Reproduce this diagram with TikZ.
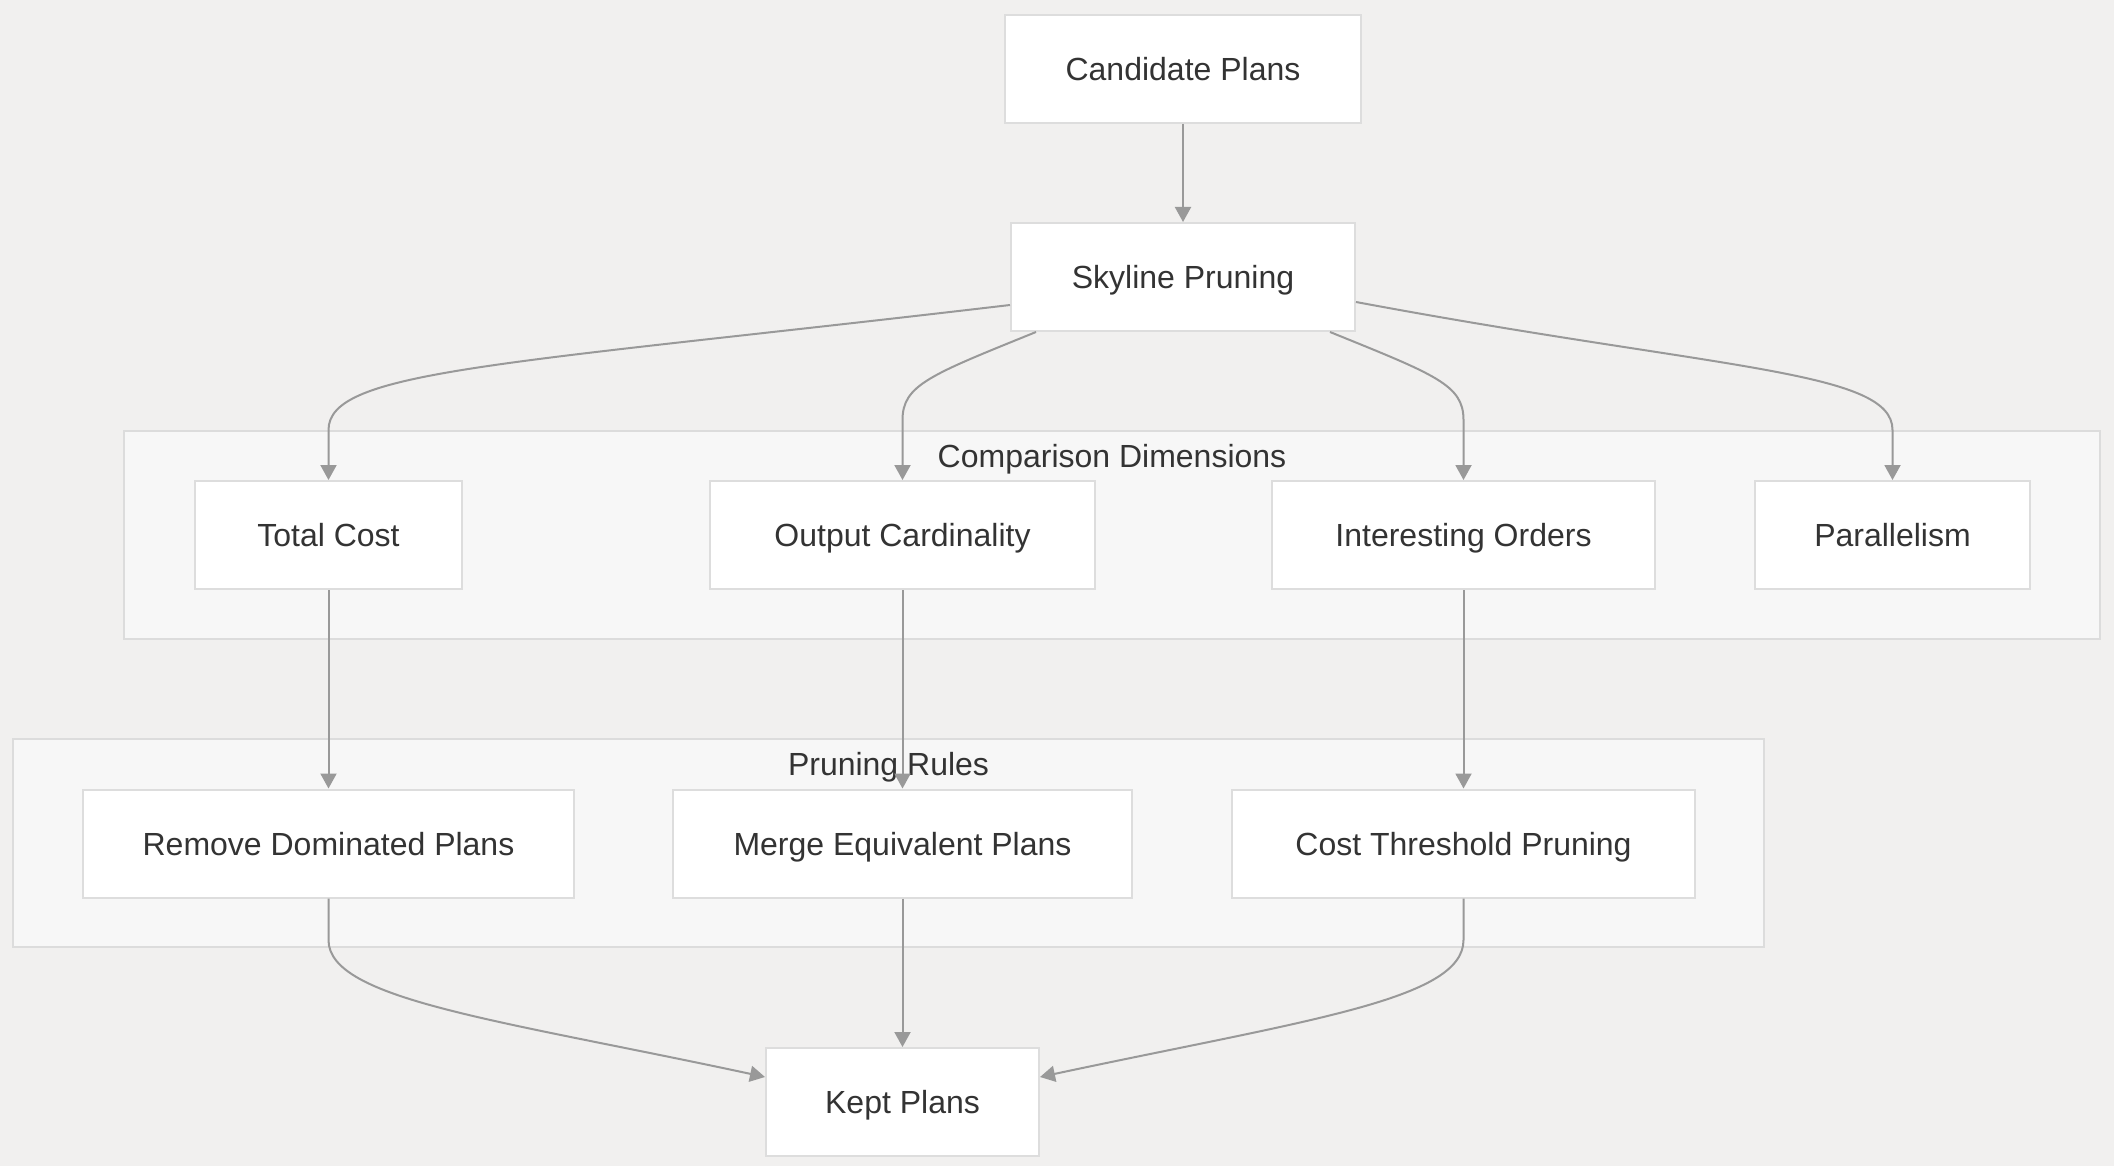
\documentclass[tikz,border=0pt]{standalone}
\usepackage{fontspec}
\setmainfont{Liberation Sans}
\usetikzlibrary{arrows.meta,calc}
\definecolor{bg}{HTML}{F1F0EF}
\definecolor{clfill}{HTML}{F7F7F7}
\definecolor{clborder}{HTML}{DCDCDC}
\definecolor{nodeborder}{HTML}{DDDDDD}
\definecolor{edgec}{HTML}{999999}
\definecolor{txt}{HTML}{333333}
\begin{document}
\begin{tikzpicture}[x=0.5pt,y=-0.5pt,
  box/.style={draw=nodeborder, line width=1pt, fill=white, minimum height=54pt, inner sep=0pt,
    text height=11.5pt, text depth=0pt,
    font=\fontsize{16}{19}\selectfont, text=txt},
  cl/.style={draw=clborder, line width=1pt, fill=clfill, inner sep=0pt},
  cllabel/.style={font=\fontsize{16}{19}\selectfont, text=txt, inner sep=0pt, anchor=base},
  edge/.style={draw=edgec, line width=1pt, -{Triangle[length=7.5pt,width=8pt]}}]
\useasboundingbox (0,0) rectangle (2114,1166);
\fill[bg] (0,0) rectangle (2114,1166);
% clusters
\node[cl, minimum width=987.75pt, minimum height=104pt] (c1) at (1112,535) {};
\node[cl, minimum width=875.5pt, minimum height=104pt] (c2) at (888.5,843) {};
\node[cllabel] (l1) at (1112,467) {Comparison Dimensions};
\node[cllabel] (l2) at (888.5,775) {Pruning Rules};
% nodes
\node[box, minimum width=178pt] (cand) at (1183,69) {Candidate Plans};
\node[box, minimum width=172pt] (sky) at (1183,277) {Skyline Pruning};
\node[box, minimum width=133.5pt] (tc) at (328.5,535) {Total Cost};
\node[box, minimum width=192.5pt] (oc) at (902.5,535) {Output Cardinality};
\node[box, minimum width=191.5pt] (io) at (1463.5,535) {Interesting Orders};
\node[box, minimum width=137.5pt] (par) at (1892.5,535) {Parallelism};
\node[box, minimum width=245.5pt] (rd) at (328.5,843.5) {Remove Dominated Plans};
\node[box, minimum width=229.5pt] (me) at (902.5,843.5) {Merge Equivalent Plans};
\node[box, minimum width=231.5pt] (ct) at (1463.5,843.5) {Cost Threshold Pruning};
\node[box, minimum width=136.5pt] (kp) at (902.5,1102) {Kept Plans};
% edges
\draw[edge] (cand) -- (sky);
\draw[edge] ([yshift=-14pt]sky.west) .. controls (500,365) and (328.5,370) .. (328.5,430) -- (tc.north);
\draw[edge] ([xshift=-73.5pt]sky.south) .. controls (930,375) and (902.5,385) .. (902.5,420) -- (oc.north);
\draw[edge] ([xshift=73.5pt]sky.south) .. controls (1436,375) and (1463.5,385) .. (1463.5,420) -- (io.north);
\draw[edge] ([yshift=-12.5pt]sky.east) .. controls (1720,370) and (1892.5,370) .. (1892.5,430) -- (par.north);
\draw[edge] (tc.south) -- (rd.north);
\draw[edge] (oc.south) -- (me.north);
\draw[edge] (io.south) -- (ct.north);
\draw[edge] (rd.south) -- (328.5,940) .. controls (328.5,1000) and (500,1020) .. ([yshift=12.5pt]kp.west);
\draw[edge] (me.south) -- (kp.north);
\draw[edge] (ct.south) -- (1463.5,940) .. controls (1463.5,1000) and (1307,1020) .. ([yshift=12.5pt]kp.east);
\end{tikzpicture}
\end{document}
